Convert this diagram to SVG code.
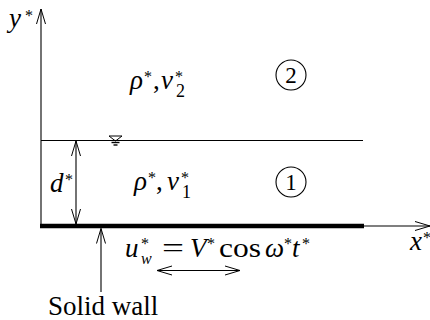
<svg xmlns="http://www.w3.org/2000/svg" width="430" height="320" viewBox="0 0 430 320">
<style>
.ln{stroke:#000;fill:none;stroke-width:1.1}
.m{font-style:italic;font-size:27px}
.r{font-size:27px}
.s{font-size:16px}
.sb{font-size:18px}
.c{font-size:23px}
</style>
<defs>
<marker id="ah" markerUnits="userSpaceOnUse" markerWidth="20" markerHeight="12" viewBox="-16 -6 20 12" refX="0" refY="0" orient="auto-start-reverse">
<path d="M-15,-4.5 L0,0 L-15,4.5" fill="none" stroke="#000" stroke-width="1"/>
</marker>
</defs>
<rect width="430" height="320" fill="#fff"/>
<g id="connectors">
<line class="ln" x1="41" y1="227" x2="41" y2="9" marker-end="url(#ah)"/>
<line class="ln" x1="41" y1="140.5" x2="363" y2="140.5"/>
<line x1="40" y1="226" x2="364" y2="226" stroke="#000" stroke-width="4.5"/>
<line class="ln" x1="362" y1="226" x2="430" y2="226" marker-end="url(#ah)"/>
<line class="ln" x1="76" y1="141" x2="76" y2="224" marker-start="url(#ah)" marker-end="url(#ah)"/>
<line class="ln" x1="101" y1="292" x2="101" y2="228.5" marker-end="url(#ah)"/>
<line class="ln" x1="157" y1="270.5" x2="240" y2="270.5" marker-start="url(#ah)" marker-end="url(#ah)"/>
</g>
<g id="free-surface">
<path d="M109,136 L122,136 L115.5,141 Z" fill="none" stroke="#000" stroke-width="1"/>
<line x1="111.5" y1="142.5" x2="119.5" y2="142.5" stroke="#000" stroke-width="1.4"/>
<line x1="113.5" y1="145" x2="117.5" y2="145" stroke="#000" stroke-width="1.4"/>
</g>
<g font-family="Liberation Serif, Times New Roman, serif" fill="#000">
<g id="axis-y"><text class="m" x="9" y="27">y</text><text class="s" x="25" y="21">*</text></g>
<g id="axis-x"><text class="m" x="410" y="250">x</text><text class="s" x="423" y="243">*</text></g>
<g id="layer2"><text class="m" x="130" y="89">ρ</text><text class="s" x="144" y="82">*</text><text class="r" x="153" y="89">,</text><text class="m" x="161" y="89">ν</text><text class="s" x="175" y="82">*</text><text class="sb" x="176" y="97">2</text></g>
<g id="layer1"><text class="m" x="134" y="190">ρ</text><text class="s" x="148" y="183">*</text><text class="r" x="156" y="190">,</text><text class="m" x="167" y="190">ν</text><text class="s" x="181" y="183">*</text><text class="sb" x="182" y="198">1</text></g>
<g id="circle2"><circle cx="291" cy="75" r="15" class="ln"/><text class="c" x="291" y="83" text-anchor="middle">2</text></g>
<g id="circle1"><circle cx="291" cy="182" r="15" class="ln"/><text class="c" x="291" y="190" text-anchor="middle">1</text></g>
<g id="depth"><text class="m" x="50" y="192">d</text><text class="s" x="65" y="185">*</text></g>
<g id="wall-velocity"><text class="m" x="125" y="257">u</text><text class="s" x="141" y="249">*</text><text class="s" x="141" y="264" font-style="italic">w</text><text class="r" x="162" y="257" textLength="22" lengthAdjust="spacingAndGlyphs">=</text><text class="m" x="190" y="257">V</text><text class="s" x="207" y="249">*</text><text class="r" x="219" y="257" textLength="42" lengthAdjust="spacingAndGlyphs">cos</text><text class="m" x="265" y="257">ω</text><text class="s" x="284" y="249">*</text><text class="m" x="292" y="257">t</text><text class="s" x="302" y="249">*</text></g>
<g id="solid-wall"><text class="r" x="48" y="315" font-size="26.5">Solid wall</text></g>
</g>
</svg>
